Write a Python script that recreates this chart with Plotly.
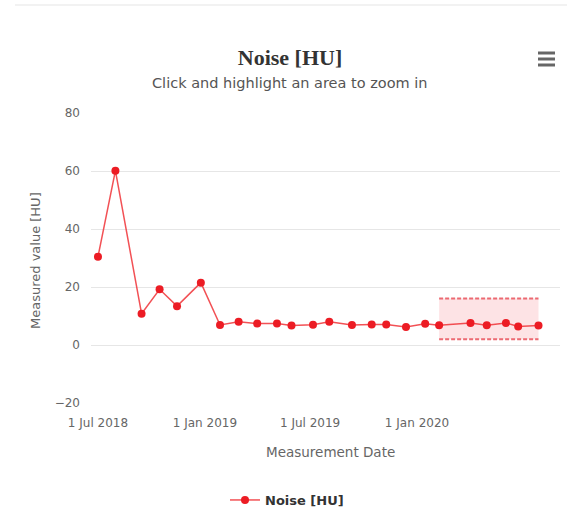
import plotly.graph_objects as go

dates = ["2018-07-01", "2018-07-31", "2018-09-14", "2018-10-15", "2018-11-14", "2018-12-25",
         "2019-01-27", "2019-02-28", "2019-04-01", "2019-05-05", "2019-05-30", "2019-07-06",
         "2019-08-03", "2019-09-11", "2019-10-15", "2019-11-09", "2019-12-13", "2020-01-15",
         "2020-02-08", "2020-04-02", "2020-04-30", "2020-06-02", "2020-06-23", "2020-07-28"]
values = [30.4, 60.1, 10.8, 19.2, 13.4, 21.5,
          6.9, 8.0, 7.4, 7.4, 6.7, 7.0,
          8.0, 6.9, 7.1, 7.1, 6.2, 7.3,
          6.8, 7.6, 6.8, 7.6, 6.4, 6.7]
band_dates = ["2020-02-08", "2020-07-28"]
band_upper = [16, 16]
band_lower = [2, 2]
x_tick_vals = ["2018-07-01", "2019-01-01", "2019-07-01", "2020-01-01"]
x_tick_text = ["1 Jul 2018", "1 Jan 2019", "1 Jul 2019", "1 Jan 2020"]

L, R, T, B = 91, 7, 113, 107
W, H = 567, 510
PW, PH = W - L - R, H - T - B

def px(x):
    return (x - L) / PW

def py(y):
    return 1 + (T - y) / PH

FONT = "DejaVu Sans, Verdana, sans-serif"
grey = "#666666"

fig = go.Figure()
fig.add_trace(go.Scatter(x=band_dates, y=band_lower, mode="lines",
                         line=dict(color="rgba(230,60,70,0.75)", width=2, dash="4px,2px"),
                         showlegend=False, hoverinfo="skip"))
fig.add_trace(go.Scatter(x=band_dates, y=band_upper, mode="lines", fill="tonexty",
                         fillcolor="rgba(245,90,100,0.17)",
                         line=dict(color="rgba(230,60,70,0.75)", width=2, dash="4px,2px"),
                         showlegend=False, hoverinfo="skip"))
fig.add_trace(go.Scatter(x=dates, y=values, mode="lines+markers", name="<b>Noise [HU]</b>",
                         line=dict(color="rgba(240,50,55,0.85)", width=1.5),
                         marker=dict(color="#ec1c24", size=8)))

fig.update_layout(
    width=W, height=H,
    margin=dict(l=L, r=R, t=T, b=B, autoexpand=False),
    paper_bgcolor="white", plot_bgcolor="white",
    font=dict(family=FONT, color=grey, size=12),
    title=dict(text="<b>Noise [HU]</b>", font=dict(family="Liberation Serif, serif", size=22, color="#333333"),
               x=290 / W, xanchor="center", xref="container",
               y=1 - 57 / H, yanchor="middle", yref="container"),
    showlegend=True,
    legend=dict(orientation="h", x=px(287), xanchor="center", y=py(500), yanchor="middle",
                font=dict(size=13, color="#333333", family=FONT)),
    xaxis=dict(type="date", range=["2018-06-19", "2020-09-03"], tickvals=x_tick_vals, ticktext=x_tick_text,
               showgrid=False, zeroline=False, showline=False,
               ticks="", tickfont=dict(size=12, color=grey), ticklabelstandoff=11),
    yaxis=dict(range=[-20, 80], dtick=20, tick0=0, showgrid=True, gridcolor="#e6e6e6",
               gridwidth=1, zeroline=False, showline=False, tickfont=dict(size=12, color=grey),
               ticklabelstandoff=10),
    annotations=[
        dict(text="Click and highlight an area to zoom in", x=px(290), y=py(83), xref="paper", yref="paper",
             showarrow=False, xanchor="center", yanchor="middle", font=dict(size=14.5, color="#555555", family=FONT)),
        dict(text="Measurement Date", x=px(330), y=py(452), xref="paper", yref="paper",
             showarrow=False, xanchor="center", yanchor="middle", font=dict(size=13.5, color=grey, family=FONT)),
        dict(text="Measured value [HU]", x=px(35), y=py(261), xref="paper", yref="paper", textangle=-90,
             showarrow=False, xanchor="center", yanchor="middle", font=dict(size=13, color=grey, family=FONT)),
    ],
    shapes=[
        dict(type="line", xref="paper", yref="paper", x0=px(15), x1=px(567), y0=py(5), y1=py(5),
             line=dict(color="#eeeeee", width=1.5)),
        dict(type="line", xref="paper", yref="paper", x0=px(538), x1=px(555), y0=py(53), y1=py(53),
             line=dict(color="#666666", width=3)),
        dict(type="line", xref="paper", yref="paper", x0=px(538), x1=px(555), y0=py(59), y1=py(59),
             line=dict(color="#666666", width=3)),
        dict(type="line", xref="paper", yref="paper", x0=px(538), x1=px(555), y0=py(65), y1=py(65),
             line=dict(color="#666666", width=3)),
    ],
)
fig.write_html("out.html", config={"displayModeBar": False},
               post_script="document.body.style.margin='0px';")
